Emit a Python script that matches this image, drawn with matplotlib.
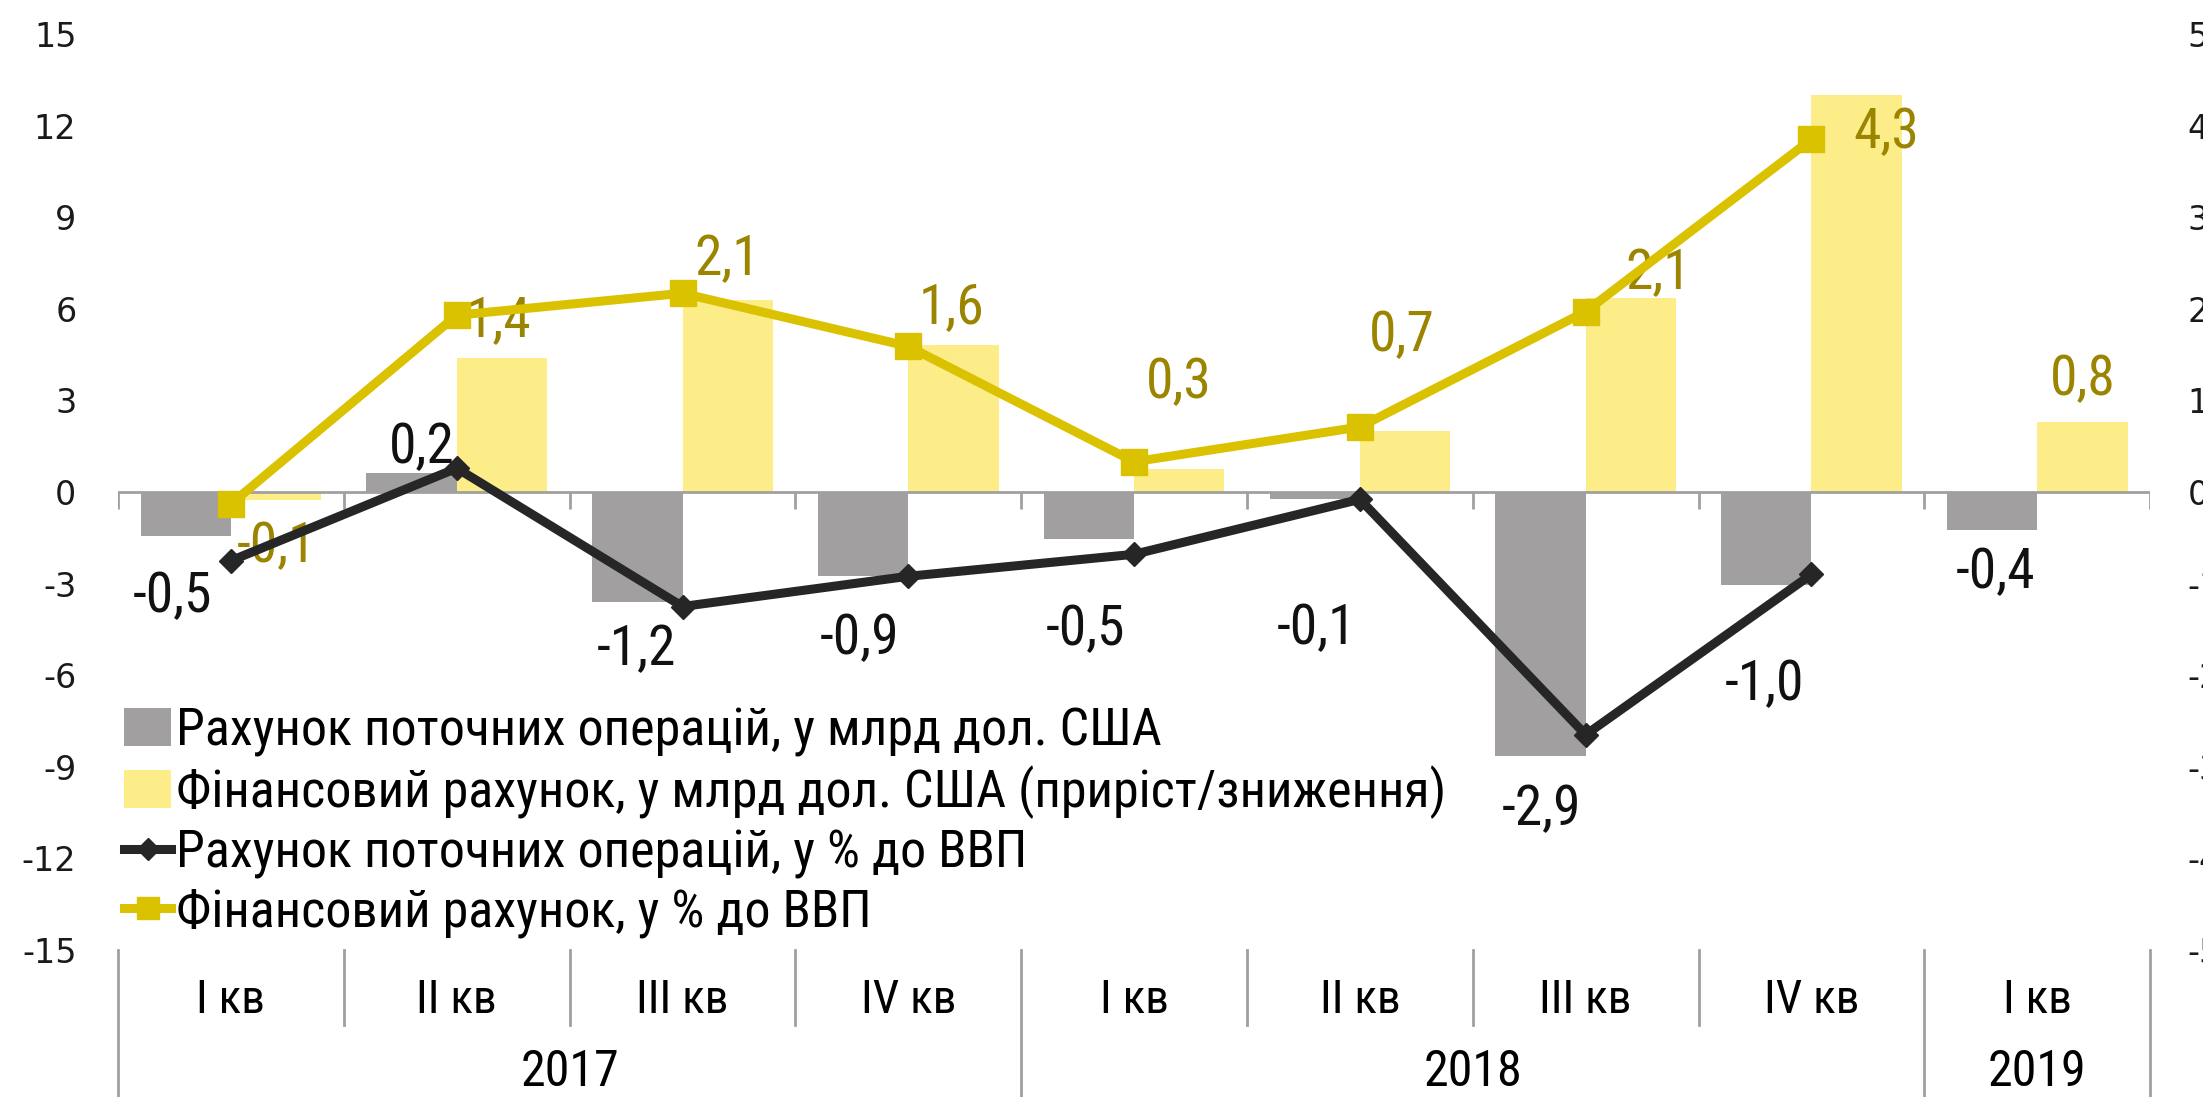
import numpy as np
import matplotlib
matplotlib.use("Agg")
import matplotlib.pyplot as plt
import matplotlib.transforms as mtransforms
from matplotlib import font_manager
from matplotlib.lines import Line2D
from matplotlib.patches import Patch

# --- data ---
quarters = ["I кв", "II кв", "III кв", "IV кв", "I кв", "II кв", "III кв", "IV кв", "I кв"]
years = ["2017", "2018", "2019"]
year_len = [4, 4, 1]

# bars, bn USD (left axis)
ca_bn = [-1.45, 0.62, -3.6, -2.75, -1.55, -0.22, -8.65, -3.05, -1.25]
fa_bn = [-0.27, 4.38, 6.28, 4.8, 0.75, 2.0, 6.35, 13.0, 2.3]

# lines, % of GDP (right axis), no point for the last quarter
ca_gdp = [-0.75, 0.26, -1.25, -0.92, -0.68, -0.08, -2.65, -0.90]
fa_gdp = [-0.13, 1.93, 2.17, 1.59, 0.33, 0.71, 1.97, 3.85]

# data labels as printed on the chart
ca_lbl = ["-0,5", "0,2", "-1,2", "-0,9", "-0,5", "-0,1", "-2,9", "-1,0", "-0,4"]
fa_lbl = ["-0,1", "1,4", "2,1", "1,6", "0,3", "0,7", "2,1", "4,3", "0,8"]
ca_lbl_val = [-0.5, 0.2, -1.2, -0.9, -0.5, -0.1, -2.9, -1.0, -0.4]
fa_lbl_val = [-0.1, 1.4, 2.1, 1.6, 0.3, 0.7, 2.1, 4.3, 0.8]

legend_labels = [
    "Рахунок поточних операцій, у млрд дол. США",
    "Фінансовий рахунок, у млрд дол. США (приріст/зниження)",
    "Рахунок поточних операцій, у % до ВВП",
    "Фінансовий рахунок, у % до ВВП",
]

# label offsets (points) from the point they belong to
ca_off = [(-42, -26), (-25, 15), (-33, -31), (-35, -45), (-35, -54),
          (-31, -93), (-32, -54), (-34, -79), (-30, -32)]
fa_off = [(33, -31), (30, -4), (32, 24), (31, 28), (32, 57),
          (30, 66), (52, 27), (54, 5), (33, 28)]

GREY = "#a19fa0"
LIGHT_Y = "#fced88"
DARK = "#262626"
YELLOW = "#dbc200"
OLIVE = "#9a8400"
AXIS = "#a0a0a0"


def pick_font(names):
    for n in names:
        try:
            font_manager.findfont(n, fallback_to_default=False)
            return n
        except ValueError:
            continue
    return "DejaVu Sans"


narrow = pick_font(["Liberation Sans Narrow", "Roboto Condensed", "Open Sans Condensed", "DejaVu Sans"])
plt.rcParams["axes.unicode_minus"] = False


def main():
    fig = plt.figure(figsize=(22.03, 10.97), dpi=100)
    ax = fig.add_axes([0.0536, 0.134, 0.9224, 0.835])
    ax2 = ax.twinx()

    x = np.arange(len(quarters))
    ax.bar(x - 0.2, ca_bn, width=0.4, color=GREY, zorder=2)
    ax.bar(x + 0.2, fa_bn, width=0.4, color=LIGHT_Y, zorder=2)

    ax.set_xlim(-0.5, len(quarters) - 0.5)
    ax.set_ylim(-15, 15)
    ax.set_yticks(np.arange(-15, 16, 3))
    ax2.set_ylim(-5, 5)
    ax2.set_yticks(np.arange(-5, 6, 1))

    for a in (ax, ax2):
        for s in a.spines.values():
            s.set_visible(False)
        a.tick_params(axis="y", length=0, labelsize=24, labelcolor="#1a1a1a")
    ax.tick_params(axis="y", pad=30)
    ax2.tick_params(axis="y", pad=27)

    # zero line with short ticks at category boundaries
    ax.axhline(0, color=AXIS, lw=2, zorder=3)
    bnd = np.arange(len(quarters) + 1) - 0.5
    ax.vlines(bnd, -0.55, 0, color=AXIS, lw=2, zorder=3)
    ax.set_xticks([])

    n = len(ca_gdp)
    ax2.plot(x[:n], ca_gdp, color=DARK, lw=6.5, marker="D", ms=12, zorder=4)
    ax2.plot(x[:n], fa_gdp, color=YELLOW, lw=6.5, marker="s", ms=19, zorder=4)

    for i in range(len(quarters)):
        yc = ca_gdp[i] if i < n else ca_lbl_val[i]
        yf = fa_gdp[i] if i < n else fa_lbl_val[i]
        ax2.annotate(ca_lbl[i], (x[i], yc), xytext=ca_off[i], textcoords="offset points",
                     ha="center", va="center", fontsize=40, family=narrow, color="#111111")
        ax2.annotate(fa_lbl[i], (x[i], yf), xytext=fa_off[i], textcoords="offset points",
                     ha="center", va="center", fontsize=40, family=narrow, color=OLIVE)

    # category axis below the plot
    tr = mtransforms.blended_transform_factory(ax.transData, ax.transAxes)
    year_edges = np.cumsum([0] + year_len) - 0.5
    for b in bnd:
        low = -0.18 if b in year_edges else -0.082
        ax.plot([b, b], [0, low], color=AXIS, lw=2, transform=tr, clip_on=False)
    for i, q in enumerate(quarters):
        ax.text(x[i], -0.055, q, transform=tr, ha="center", va="center",
                fontsize=34, family=narrow)
    for k, yr in enumerate(years):
        cx = (year_edges[k] + year_edges[k + 1]) / 2
        ax.text(cx, -0.133, yr, transform=tr, ha="center", va="center",
                fontsize=36, family=narrow)

    handles = [
        Patch(facecolor=GREY),
        Patch(facecolor=LIGHT_Y),
        Line2D([], [], color=DARK, lw=6.5, marker="D", ms=11),
        Line2D([], [], color=YELLOW, lw=6.5, marker="s", ms=16),
    ]
    ax2.legend(handles, legend_labels, loc="upper left", bbox_to_anchor=(0.003, 0.266),
               frameon=False, prop={"family": narrow, "size": 37.5},
               handlelength=0.9, handleheight=0.75, handletextpad=0.1,
               labelspacing=0.17, borderaxespad=0, borderpad=0)

    fig.savefig("out.png", dpi=100)


if __name__ == "__main__":
    main()
